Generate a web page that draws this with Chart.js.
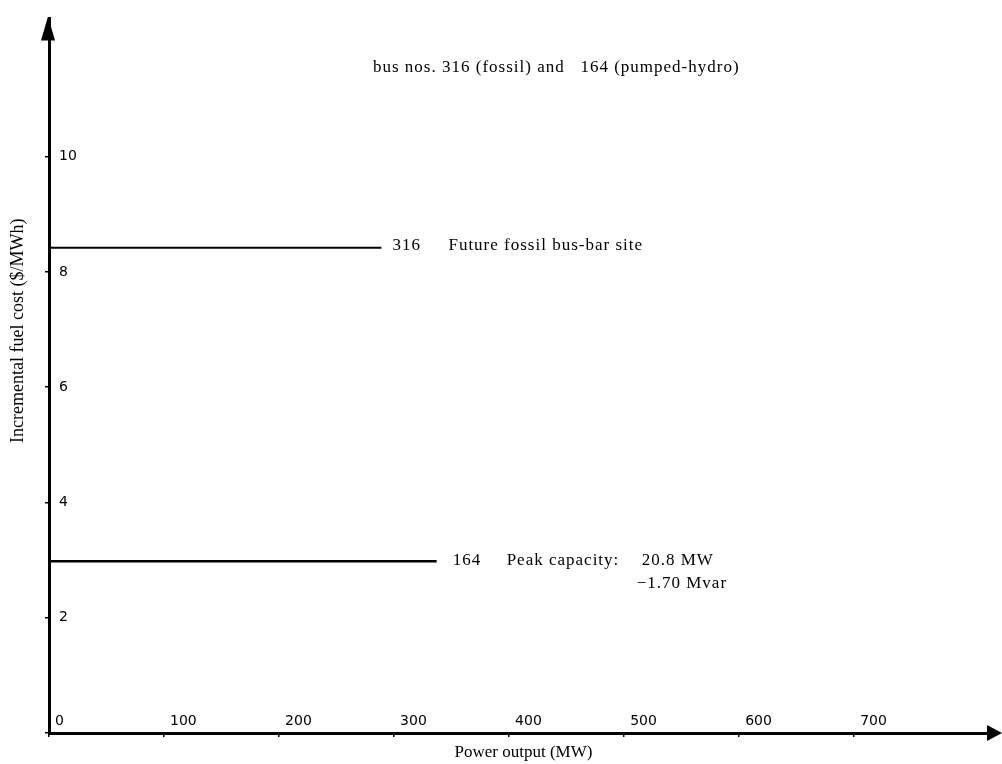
<!DOCTYPE html>
<html>
<head>
<meta charset="utf-8">
<script src="https://cdn.jsdelivr.net/npm/chart.js@4.4.0/dist/chart.umd.min.js"></script>
<style>
    html, body { margin: 0; padding: 0; background: #fff; }
</style>
</head>
<body>
<canvas id="fuelChart" width="1002" height="764"></canvas>
<script>
// bus 316 (fossil) and bus 164 (pumped-hydro), $/MWh vs MW
const fossilX = [0, 289];
const fossilY = [8.42, 8.42];
const hydroX = [0, 337];
const hydroY = [2.98, 2.98];
const xTicks = [0, 100, 200, 300, 400, 500, 600, 700];
const yTicks = [0, 2, 4, 6, 8, 10];

const serif = "'Liberation Serif', 'Times New Roman', serif";
const sans = "'DejaVu Sans', sans-serif";

function toPoints(xs, ys) {
    return xs.map(function (x, i) { return { x: x, y: ys[i] }; });
}

// arrows on the axes + the text beside each line
const extras = {
    id: "extras",
    afterDraw: function (chart) {
        const ctx = chart.ctx;
        const a = chart.chartArea;
        const sx = chart.scales.x, sy = chart.scales.y;
        ctx.save();
        ctx.fillStyle = "#000";
        // y arrow
        ctx.beginPath();
        ctx.moveTo(a.left - 1, a.top - 2);
        ctx.lineTo(a.left - 8, a.top + 22);
        ctx.lineTo(a.left + 6, a.top + 22);
        ctx.closePath();
        ctx.fill();
        // x arrow
        ctx.beginPath();
        ctx.moveTo(a.right + 4, a.bottom);
        ctx.lineTo(a.right - 11, a.bottom - 8);
        ctx.lineTo(a.right - 11, a.bottom + 8);
        ctx.closePath();
        ctx.fill();

        ctx.font = "17px " + serif;
        ctx.letterSpacing = "1px";
        ctx.textBaseline = "middle";
        ctx.textAlign = "left";

        let ex = sx.getPixelForValue(fossilX[1]);
        let ey = sy.getPixelForValue(fossilY[1]);
        ctx.fillText("316", ex + 11, ey - 2);
        ctx.fillText("Future fossil bus-bar site", ex + 67, ey - 2);

        ex = sx.getPixelForValue(hydroX[1]);
        ey = sy.getPixelForValue(hydroY[1]);
        ctx.fillText("164", ex + 16, ey - 1);
        ctx.fillText("Peak capacity:", ex + 70, ey - 1);
        ctx.fillText("20.8 MW", ex + 205, ey - 1);
        ctx.fillText("\u22121.70 Mvar", ex + 200, ey + 22);

        ctx.fillText("bus nos. 316 (fossil) and   164 (pumped-hydro)", 373, 68);
        ctx.restore();
    }
};

new Chart(document.getElementById("fuelChart"), {
    type: "line",
    data: {
        datasets: [{
            label: "316",
            data: toPoints(fossilX, fossilY),
            borderColor: "#000",
            borderWidth: 2,
            pointRadius: 0
        }, {
            label: "164",
            data: toPoints(hydroX, hydroY),
            borderColor: "#000",
            borderWidth: 2.5,
            pointRadius: 0
        }]
    },
    options: {
        responsive: false,
        animation: false,
        layout: { padding: { top: 10, right: 4, left: 0, bottom: 0 } },
        plugins: {
            legend: { display: false },
            tooltip: { enabled: false }
        },
        scales: {
            x: {
                type: "linear",
                min: 0,
                max: 825,
                afterBuildTicks: function (s) { s.ticks = xTicks.map(function (v) { return { value: v }; }); },
                afterFit: function (s) { s.height = 31; },
                grid: { drawOnChartArea: false, drawTicks: true, tickLength: 4, color: "#000", lineWidth: 1.5 },
                border: { color: "#000", width: 3 },
                ticks: {
                    color: "#000",
                    mirror: true,
                    padding: 3,
                    align: "start",
                    labelOffset: 6,
                    maxRotation: 0,
                    autoSkip: false,
                    font: { family: sans, size: 14 }
                },
                title: {
                    display: true,
                    text: "Power output (MW)",
                    color: "#000",
                    padding: { top: 0, bottom: 1 },
                    font: { family: serif, size: 17 }
                }
            },
            y: {
                type: "linear",
                min: 0,
                max: 12.4,
                afterBuildTicks: function (s) { s.ticks = yTicks.map(function (v) { return { value: v }; }); },
                afterFit: function (s) { s.width = 49; },
                grid: { drawOnChartArea: false, drawTicks: true, tickLength: 4, color: "#000", lineWidth: 1.5 },
                border: { color: "#000", width: 3 },
                ticks: {
                    color: "#000",
                    mirror: true,
                    padding: 10,
                    font: { family: sans, size: 14 },
                    // the 0 at the origin is shared with the x axis
                    callback: function (v) { return v === 0 ? "" : v; }
                },
                title: {
                    display: true,
                    text: "                    Incremental fuel cost ($/MWh)",
                    color: "#000",
                    padding: { top: 7, bottom: 0 },
                    font: { family: serif, size: 18 }
                }
            }
        }
    },
    plugins: [extras]
});
</script>
</body>
</html>
